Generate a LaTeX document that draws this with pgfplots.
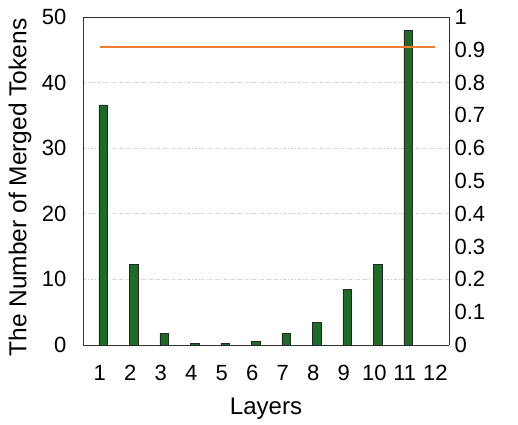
\documentclass[border=0pt]{standalone}
\usepackage{pgfplots}
\pgfplotsset{compat=1.18}
\usepackage{fontspec}
\setmainfont{Liberation Sans}
\definecolor{bargreen}{RGB}{28,107,38}
\definecolor{lineorange}{RGB}{237,125,49}
\begin{document}
\begin{tikzpicture}
  \useasboundingbox (-83pt,-79pt) rectangle (435pt,345pt);
  \begin{axis}[
      at={(0,0)}, anchor=south west,
      scale only axis,
      width=366pt, height=328pt,
      xmin=0.45, xmax=12.45,
      ymin=0, ymax=50,
      xtick={1,2,3,4,5,6,7,8,9,10,11,12},
      ytick={0,10,20,30,40,50},
      axis y line*=left,
      axis x line*=bottom,
      major tick length=0pt,
      xlabel={Layers},
      ylabel={The Number of Merged Tokens},
      xlabel style={at={(axis description cs:0.5,-0.195)}, anchor=center, font=\fontsize{24}{28}\selectfont},
      ylabel style={at={(axis description cs:-0.172,0.48)}, anchor=center, font=\fontsize{24.5}{28}\selectfont},
      ymajorgrids=true,
      grid style={dash dot, gray!35, line width=0.7pt},
      axis line style={black!80, line width=0.8pt},
      tick label style={font=\fontsize{22}{25}\selectfont},
      xticklabel style={yshift=-17pt},
      yticklabel style={xshift=-13pt},
      /pgf/number format/assume math mode=true,
    ]
    \addplot[ybar, bar width=0.285, bar shift=3.5pt, fill=bargreen, draw=black!85, line width=0.8pt]
      coordinates {(1,36.6) (2,12.3) (3,1.7) (4,0.3) (5,0.3) (6,0.5) (7,1.7) (8,3.5) (9,8.5) (10,12.3) (11,48.0)};
  \end{axis}
  \begin{axis}[
      at={(0,0)}, anchor=south west,
      scale only axis,
      width=366pt, height=328pt,
      xmin=0.45, xmax=12.45,
      ymin=0, ymax=1,
      axis x line=none,
      axis y line*=right,
      ytick={0,0.1,0.2,0.3,0.4,0.5,0.6,0.7,0.8,0.9,1},
      yticklabels={0,0.1,0.2,0.3,0.4,0.5,0.6,0.7,0.8,0.9,1},
      major tick length=0pt,
      axis line style={black!80, line width=0.8pt},
      tick label style={font=\fontsize{22}{25}\selectfont},
      yticklabel style={xshift=2pt},
      /pgf/number format/assume math mode=true,
    ]
    \addplot[lineorange, line width=2.6pt]
      coordinates {(1,0.908) (12,0.908)};
  \end{axis}
  \draw[black!80, line width=0.8pt] (0,328pt) -- (366pt,328pt);
\end{tikzpicture}
\end{document}
